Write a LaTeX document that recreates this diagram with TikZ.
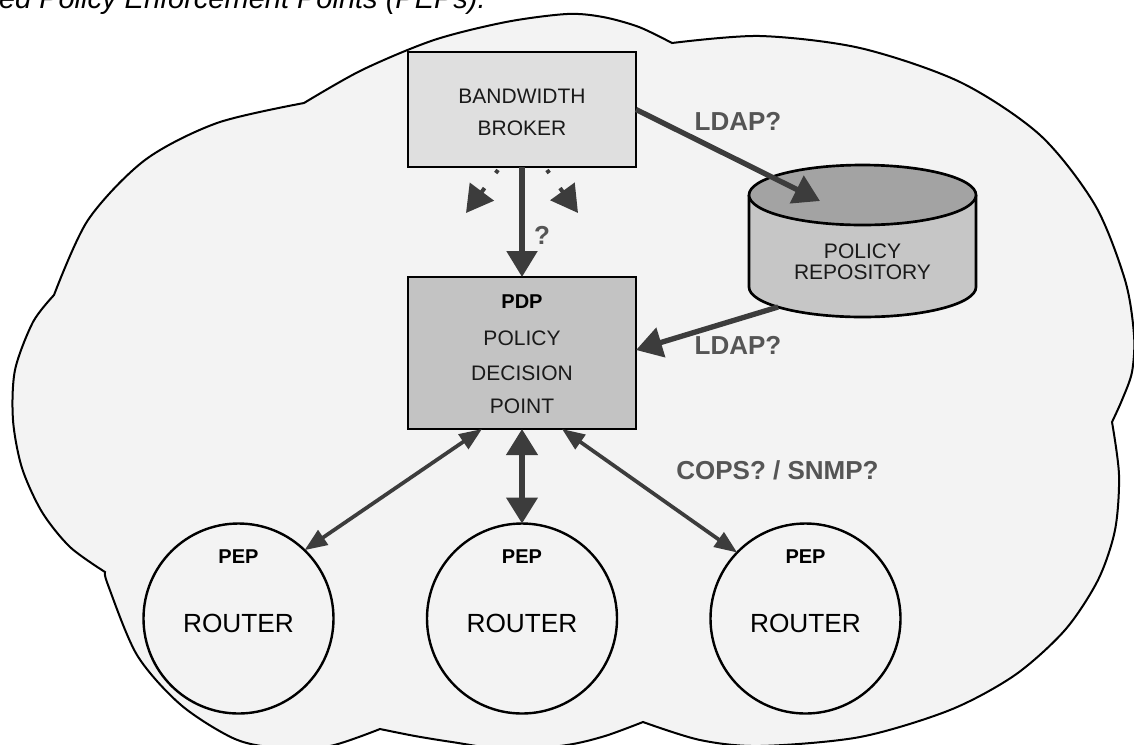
\documentclass[tikz,border=0pt]{standalone}
\usepackage{fontspec}
\setmainfont{Liberation Sans}
\usetikzlibrary{arrows.meta,calc}
\definecolor{cloudfill}{HTML}{F3F3F3}
\definecolor{brokerfill}{HTML}{DFDFDF}
\definecolor{pdpfill}{HTML}{C3C3C3}
\definecolor{repobody}{HTML}{C6C6C6}
\definecolor{repotop}{HTML}{A3A3A3}
\definecolor{arrowgray}{HTML}{3C3C3C}
\definecolor{labelgray}{HTML}{555555}
\definecolor{txtdark}{HTML}{1A1A1A}
\newcommand\fsz[1]{\fontsize{#1}{#1}\selectfont}
\begin{document}
\begin{tikzpicture}[x=0.75pt, y=-0.75pt,
  every node/.style={inner sep=0pt, outer sep=0pt},
  boxnode/.style={draw=black, line width=2pt, minimum width=171pt},
  routernode/.style={circle, draw=black, line width=1.8pt, minimum size=142.5pt},
  linetxt/.style={font=\fsz{15.75}, text=txtdark},
  keytxt/.style={font=\bfseries\fsz{15}, text=black},
  routertxt/.style={font=\fsz{19.7}, text=black},
  proto/.style={font=\bfseries\fsz{19.5}, text=labelgray},
  bigarrow/.style={draw=arrowgray, line width=4pt, -{Triangle[length=19.5pt,width=22.5pt]}},
  bigdouble/.style={draw=arrowgray, line width=4pt, {Triangle[length=19.5pt,width=23pt]}-{Triangle[length=19.5pt,width=23pt]}},
  thindouble/.style={draw=arrowgray, line width=2.8pt, {Triangle[length=17pt,width=13pt]}-{Triangle[length=17pt,width=13pt]}},
  stubhead/.style={draw=arrowgray, line width=3pt, -{Triangle[length=20pt,width=22pt]}},
]
\useasboundingbox (0,0) rectangle (1134,744);
\clip (0,0) rectangle (1134,744);
\fill[white] (0,0) rectangle (1134,744);

% caption line running off the top edge
\node[anchor=base west, font=\itshape\fsz{21.75}, text=black] (cap) at (-1,8.5) {ed Policy Enforcement Points (PEPs).};

% the network cloud, one smooth arc between each pair of cusps
\path[fill=cloudfill, draw=black, line width=1.5pt]
  plot[smooth] coordinates {(54,295) (88,220) (145,160) (217,123) (304,103)}
  -- plot[smooth] coordinates {(304,103) (362,70) (434,40) (506,22) (567,14) (603,17) (639,27) (672,43)}
  -- plot[smooth] coordinates {(672,43) (760,36) (860,48) (960,82) (1040,135) (1095,205) (1125,280) (1134,335) (1132,372) (1122,400) (1112,422)}
  -- plot[smooth] coordinates {(1112,422) (1119,475) (1115,530) (1098,580) (1065,630) (1015,675) (950,710) (860,737) (760,746) (700,740) (643,722)}
  -- plot[smooth] coordinates {(643,722) (605,736) (567,745) (510,750) (452,742) (415,736) (380,729)}
  -- plot[smooth] coordinates {(380,729) (330,746) (280,748) (235,739) (181,705) (137,655) (108,585) (105,572)}
  -- plot[smooth] coordinates {(105,572) (70,547) (42,512) (22,468) (13,420) (15,370) (33,322) (54,295)}
  -- cycle;

% bandwidth broker
\node[boxnode, fill=brokerfill, minimum height=86.25pt] (bb) at (522,109.5) {};
\node[linetxt] (bb1) at (522,96) {BANDWIDTH};
\node[linetxt] (bb2) at (522,128) {BROKER};

% policy decision point
\node[boxnode, fill=pdpfill, minimum height=114pt] (pdp) at (522,353) {};
\node[keytxt] (pdp0) at (522,302) {PDP};
\node[linetxt] (pdp1) at (522,338) {POLICY};
\node[linetxt] (pdp2) at (522,373) {DECISION};
\node[linetxt] (pdp3) at (522,406) {POINT};

% policy repository cylinder
\fill[repobody] (749,195) rectangle (976,287);
\fill[repobody] (749,287) arc[start angle=180, end angle=0, x radius=113.5, y radius=30];
\draw[black, line width=2pt] (749,195) -- (749,287)
  arc[start angle=180, end angle=0, x radius=113.5, y radius=30] -- (976,195);
\path[fill=repotop, draw=black, line width=2pt] (862.5,195) ellipse[x radius=113.5, y radius=30];
\node[linetxt] (repo1) at (862.5,251) {POLICY};
\node[linetxt] (repo2) at (862.5,272) {REPOSITORY};
\coordinate (repoin) at (820,201);
\coordinate (repoout) at (778,307);

% routers
\node[routernode] (r1) at (238.5,618.5) {};
\node[routernode] (r2) at (522,618.5) {};
\node[routernode] (r3) at (805.5,618.5) {};
\foreach \n/\x in {1/238.5, 2/522, 3/805.5} {
  \node[keytxt] (pep\n) at (\x,557) {PEP};
  \node[routertxt] (rt\n) at (\x,623) {ROUTER};
}

% connectors
\draw[bigarrow] (bb.east) -- (repoin);
\draw[bigarrow] (repoout) -- ($(pdp.east)+(0,-3)$);
\draw[bigarrow] (bb.south) -- (pdp.north);
\draw[bigdouble] (pdp.south) -- (r2.north);
\draw[thindouble] ($(pdp.south)+(-40,0)$) -- (r1.46);
\draw[thindouble] ($(pdp.south)+(40,0)$) -- (r3.136);

% two short arrows leaving the broker
\coordinate (s1) at ($(bb.south)+(-24,3)$);
\coordinate (t1) at ($(bb.south)+(-56,46)$);
\coordinate (s2) at ($(bb.south)+(25,3)$);
\coordinate (t2) at ($(bb.south)+(56,46)$);
\draw[stubhead] ($(s1)!0.42!(t1)$) -- (t1);
\draw[stubhead] ($(s2)!0.42!(t2)$) -- (t2);
\draw[arrowgray, line width=3pt] (s1) -- ($(s1)!0.07!(t1)$);
\draw[arrowgray, line width=3pt] (s2) -- ($(s2)!0.07!(t2)$);

% protocol labels
\node[proto] (l1) at (738,121) {LDAP?};
\node[proto] (l2) at (738,345) {LDAP?};
\node[proto] (q) at (542,235) {?};
\node[proto] (cops) at (777.5,470) {COPS? / SNMP?};
\end{tikzpicture}
\end{document}
